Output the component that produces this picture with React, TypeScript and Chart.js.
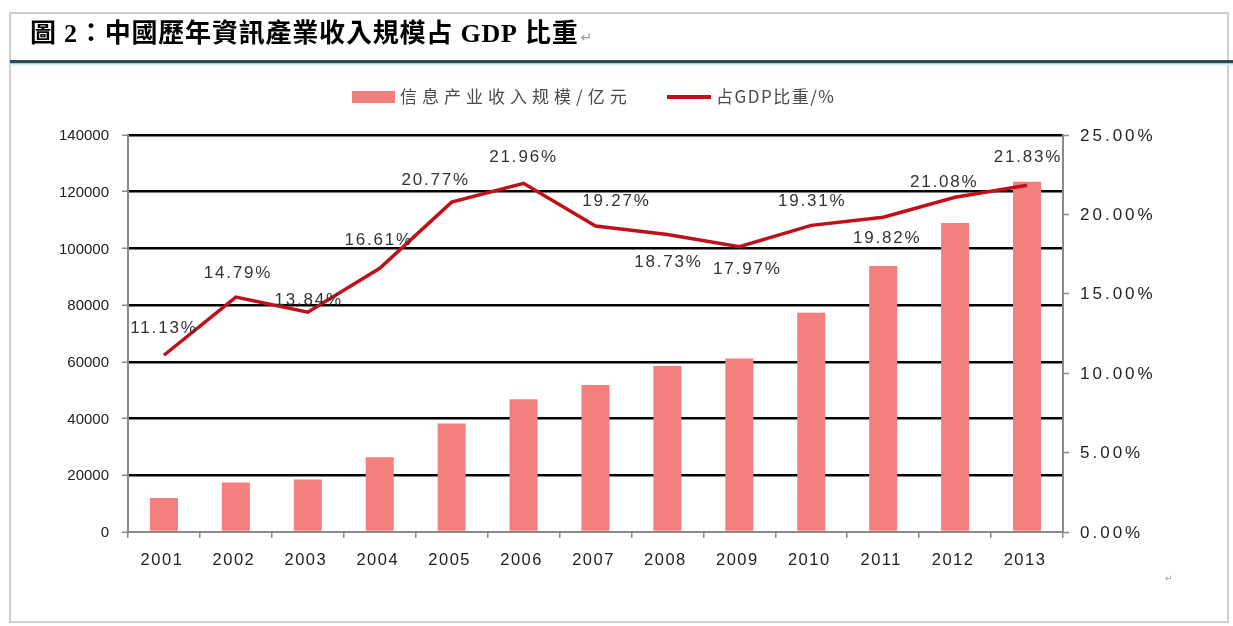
import { useEffect, useRef } from "react";
import { Chart, registerables } from "chart.js";

Chart.register(...registerables);

const years = ["2001", "2002", "2003", "2004", "2005", "2006", "2007", "2008", "2009", "2010", "2011", "2012", "2013"];
const revenue = [12000, 17500, 18500, 26400, 38300, 46800, 51800, 58500, 61200, 77300, 93800, 109000, 123500];
const gdpShare = [11.13, 14.79, 13.84, 16.61, 20.77, 21.96, 19.27, 18.73, 17.97, 19.31, 19.82, 21.08, 21.83];
const leftTicks = [0, 20000, 40000, 60000, 80000, 100000, 120000, 140000];
const rightTicks = [0, 5, 10, 15, 20, 25];
const barLegend = "信息产业收入规模/亿元";
const lineLegend = "占GDP比重/%";
const titleText = "圖 2：中國歷年資訊產業收入規模占 GDP 比重";

// label placement relative to each line point (dx, dy)
const labelOffsets: [number, number][] = [
  [-1, -27], [1, -24], [0, -12], [-2, -28], [-17, -22], [-1, -26], [20, -25],
  [0, 28], [7, 23], [0, -24], [3, 21], [-12, -15], [0, -28],
];

const PINK = "#f47f7f";
const RED = "#c0101a";
const AXIS = "#8a8a8a";
const TEXT = "#222";

export default function App() {
  const ref = useRef<HTMLCanvasElement>(null);

  useEffect(() => {
    const canvas = ref.current!;
    const deco = {
      id: "deco",
      afterDraw(chart: any) {
        const ctx: CanvasRenderingContext2D = chart.ctx;
        ctx.save();
        // frame
        ctx.strokeStyle = "#cfcfcf";
        ctx.lineWidth = 2;
        ctx.strokeRect(10, 13, 1218, 609);
        // title band line
        ctx.fillStyle = "#2c4a56";
        ctx.fillRect(10, 60, 1223, 3.5);
        ctx.fillStyle = "#d3f0f3";
        ctx.fillRect(10, 63.5, 1223, 2);
        // title
        ctx.fillStyle = "#000";
        ctx.textBaseline = "middle";
        ctx.textAlign = "left";
        ctx.font = "bold 26px 'Liberation Serif', 'Noto Sans CJK TC'";
        (ctx as any).letterSpacing = "0.8px";
        ctx.fillText(titleText, 30, 35);
        const tw = ctx.measureText(titleText).width;
        (ctx as any).letterSpacing = "0px";
        ctx.fillStyle = "#9a9a9a";
        ctx.font = "14px 'DejaVu Sans'";
        ctx.fillText("↵", 30 + tw + 2, 38);
        ctx.font = "9px 'DejaVu Sans'";
        ctx.fillText("↵", 1165, 579);

        // legend
        ctx.fillStyle = PINK;
        ctx.fillRect(352, 91, 43, 12);
        ctx.fillStyle = "#4a4a4a";
        ctx.font = "17px 'Noto Sans CJK SC'";
        (ctx as any).letterSpacing = "5px";
        ctx.fillText(barLegend, 400, 97);
        ctx.strokeStyle = RED;
        ctx.lineWidth = 4;
        ctx.beginPath();
        ctx.moveTo(667, 97);
        ctx.lineTo(711, 97);
        ctx.stroke();
        (ctx as any).letterSpacing = "1.5px";
        ctx.fillText(lineLegend, 716, 97);

        // axis labels
        ctx.fillStyle = TEXT;
        ctx.font = "15px 'Liberation Sans', Arial";
        (ctx as any).letterSpacing = "0px";
        ctx.textAlign = "right";
        const ys = chart.scales.y;
        for (const v of leftTicks) {
          ctx.fillText(String(v), 109, ys.getPixelForValue(v) + 1);
        }
        ctx.textAlign = "left";
        ctx.font = "17px 'Liberation Sans', Arial";
        (ctx as any).letterSpacing = "3px";
        const y1 = chart.scales.y1;
        for (const v of rightTicks) {
          ctx.fillText(v.toFixed(2) + "%", 1080, y1.getPixelForValue(v) + 1);
        }
        ctx.textAlign = "center";
        ctx.font = "16.5px 'Liberation Sans', Arial";
        (ctx as any).letterSpacing = "1.5px";
        const xs = chart.scales.x;
        years.forEach((yr, i) => {
          ctx.fillText(yr, xs.getPixelForValue(i) - 2, 560);
        });

        // data labels
        ctx.fillStyle = "#333";
        ctx.font = "17px 'Liberation Sans', Arial";
        (ctx as any).letterSpacing = "1.8px";
        const meta = chart.getDatasetMeta(0);
        meta.data.forEach((pt: any, i: number) => {
          const [dx, dy] = labelOffsets[i];
          ctx.fillText(gdpShare[i].toFixed(2) + "%", pt.x + dx + 1, pt.y + dy);
        });
        ctx.restore();
      },
    };

    const chart = new Chart(canvas, {
      type: "bar",
      data: {
        labels: years,
        datasets: [
          {
            type: "line",
            label: lineLegend,
            data: gdpShare,
            yAxisID: "y1",
            borderColor: RED,
            backgroundColor: RED,
            borderWidth: 3.5,
            pointRadius: 0,
            tension: 0,
            order: 0,
          } as any,
          {
            type: "bar",
            label: barLegend,
            data: revenue,
            yAxisID: "y",
            backgroundColor: PINK,
            barPercentage: 0.39,
            categoryPercentage: 1,
            order: 1,
          } as any,
        ],
      },
      options: {
        responsive: false,
        animation: false,
        devicePixelRatio: 1,
        layout: { padding: { top: 135, left: 0, right: 0, bottom: 0 } },
        plugins: {
          legend: { display: false },
          title: { display: false },
          tooltip: { enabled: false },
        },
        scales: {
          x: {
            grid: { drawOnChartArea: false, tickLength: 6, color: AXIS, lineWidth: 1.5 },
            border: { color: AXIS, width: 2 },
            ticks: { display: false },
            afterFit(s: any) { s.height = 94; },
          },
          y: {
            position: "left",
            min: 0,
            max: 140000,
            ticks: { stepSize: 20000, display: false },
            grid: {
              color: (c: any) => (c.tick && c.tick.value === 0 ? "rgba(0,0,0,0)" : "#000"),
              lineWidth: 2.5,
              tickColor: AXIS,
              tickLength: 6,
              tickWidth: 1.5,
            },
            border: { color: AXIS, width: 2 },
            afterFit(s: any) { s.width = 128; },
          },
          y1: {
            position: "right",
            min: 0,
            max: 25,
            ticks: { stepSize: 5, display: false },
            grid: { drawOnChartArea: false, tickColor: AXIS, tickLength: 6, tickWidth: 1.5 },
            border: { color: AXIS, width: 2 },
            afterFit(s: any) { s.width = 170; },
          },
        },
      } as any,
      plugins: [deco],
    });
    return () => chart.destroy();
  }, []);

  return (
    <div style={{ position: "fixed", left: 0, top: 0, width: 1233, height: 626, background: "#fff" }}>
      <canvas ref={ref} width={1233} height={626} style={{ display: "block" }} />
    </div>
  );
}
